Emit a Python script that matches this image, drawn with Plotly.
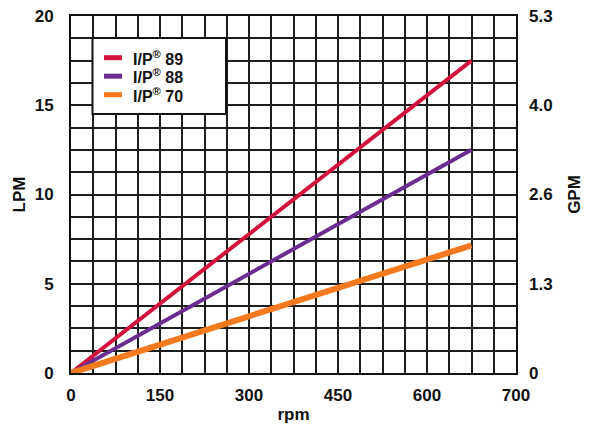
import plotly.graph_objects as go

# ---- data ----
rpm = [0, 675]
series_names = ["I/P<sup>®</sup> 89", "I/P<sup>®</sup> 88", "I/P<sup>®</sup> 70"]
lpm_ip89 = [0, 17.5]
lpm_ip88 = [0, 12.5]
lpm_ip70 = [0, 7.15]

x_tick_vals = [0, 150, 300, 450, 600, 750]
x_tick_text = ["0", "150", "300", "450", "600", "700"]
lpm_tick_vals = [0, 5, 10, 15, 20]
lpm_tick_text = ["0", "5", "10", "15", "20"]
gpm_tick_text = ["0", "1.3", "2.6", "4.0", "5.3"]

colors = ["#d2123c", "#6a2d8f", "#f47a20"]
widths = [4, 4, 6]

FONT = "Liberation Sans"
W, H = 591, 424
L, R, T, B = 71, 75, 16, 51
PW, PH = W - L - R, H - T - B

fig = go.Figure()
for name, ys, c, w in zip(series_names, [lpm_ip89, lpm_ip88, lpm_ip70], colors, widths):
    fig.add_trace(go.Scatter(x=rpm, y=ys, mode="lines", name=name,
                             line=dict(color=c, width=w), showlegend=False))
# invisible trace to attach the GPM axis
fig.add_trace(go.Scatter(x=rpm, y=lpm_ip89, yaxis="y2", mode="lines",
                         line=dict(width=0), opacity=0, showlegend=False, hoverinfo="skip"))

grid_col = "#1e1e1e"
tick_font = dict(family=FONT, size=17, color="#111", weight=700)
title_font = dict(family=FONT, size=17, color="#111", weight=700)

fig.update_layout(
    width=W, height=H,
    margin=dict(l=L, r=R, t=T, b=B, autoexpand=False),
    paper_bgcolor="white", plot_bgcolor="white",
    showlegend=False,
    xaxis=dict(range=[0, 750], tickmode="array", tickvals=x_tick_vals, ticktext=x_tick_text,
               showgrid=True, gridcolor=grid_col, gridwidth=2,
               minor=dict(tickmode="linear", tick0=0, dtick=37.5, showgrid=True,
                          gridcolor=grid_col, gridwidth=2),
               showline=True, linecolor="#111", linewidth=2, mirror=True,
               zeroline=False, ticks="", ticklabelstandoff=6,
               tickfont=tick_font,
               title=dict(text="rpm", font=title_font, standoff=4),
               automargin=False, fixedrange=True),
    yaxis=dict(range=[0, 20], tickmode="array", tickvals=lpm_tick_vals, ticktext=lpm_tick_text,
               showgrid=True, gridcolor=grid_col, gridwidth=2,
               minor=dict(tickmode="linear", tick0=0, dtick=1.25, showgrid=True,
                          gridcolor=grid_col, gridwidth=2),
               showline=True, linecolor="#111", linewidth=2, mirror=True,
               zeroline=False, ticks="", ticklabelstandoff=12,
               tickfont=tick_font,
               title=dict(text="LPM", font=title_font, standoff=5),
               automargin=False, fixedrange=True),
    yaxis2=dict(range=[0, 20], overlaying="y", side="right", tickmode="array",
                tickvals=lpm_tick_vals, ticktext=gpm_tick_text,
                showgrid=False, zeroline=False, showline=False, ticks="",
                ticklabelstandoff=12, tickfont=tick_font,
                title=dict(text="GPM", font=title_font, standoff=16),
                automargin=False, fixedrange=True),
)

# ---- legend box (manual, to match the compact reference legend) ----
def px_x(p):
    return (p - L) / PW

def px_y(p):
    return (H - B - p) / PH

fig.add_shape(type="rect", xref="paper", yref="paper",
              x0=px_x(92.5), x1=px_x(226), y0=px_y(114), y1=px_y(38),
              fillcolor="white", line=dict(color="#111", width=2), layer="above")

row_y = [57.7, 76.2, 94.7]
for name, c, ry in zip(series_names, colors, row_y):
    fig.add_shape(type="line", xref="paper", yref="paper",
                  x0=px_x(104), x1=px_x(122), y0=px_y(ry), y1=px_y(ry),
                  line=dict(color=c, width=5), layer="above")
    fig.add_annotation(xref="paper", yref="paper", x=px_x(131), y=px_y(ry),
                       xanchor="left", yanchor="middle", showarrow=False,
                       text=name, font=dict(family=FONT, size=16, color="#111", weight=700))

fig.write_html("out.html",
               config={"displayModeBar": False},
               post_script="document.body.style.margin='0';document.body.style.overflow='hidden';")
